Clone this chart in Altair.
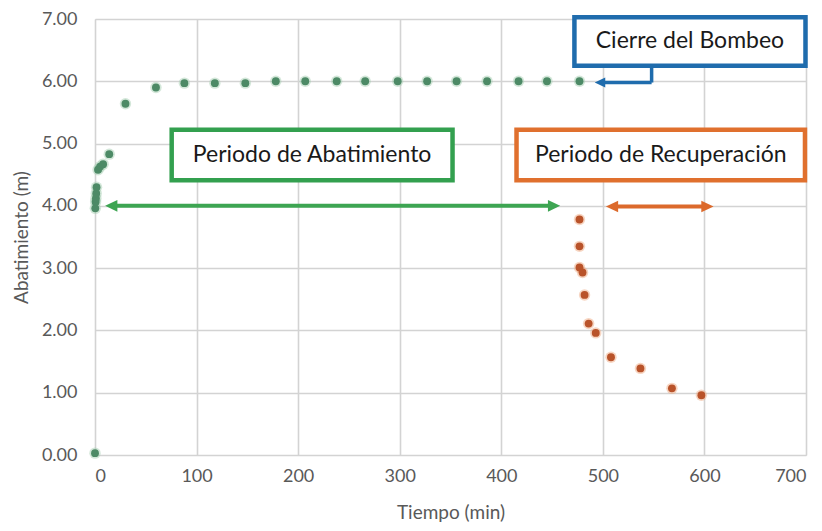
import altair as alt
import pandas as pd

# --- data ---
green_t = [0, 0.3, 0.6, 0.9, 1.2, 1.5, 3, 5, 8, 14, 30, 60, 88, 118, 148, 178, 207, 238, 266, 298, 327, 356, 386, 417, 445, 477]
green_s = [0.03, 3.96, 4.06, 4.12, 4.20, 4.30, 4.58, 4.63, 4.67, 4.83, 5.64, 5.90, 5.97, 5.97, 5.97, 6.00, 6.00, 6.00, 6.00, 6.00, 6.00, 6.00, 6.00, 6.00, 6.00, 6.00]
orange_t = [477, 477, 477, 480, 482, 486, 493, 508, 537, 568, 597]
orange_s = [3.78, 3.35, 3.01, 2.93, 2.57, 2.11, 1.96, 1.57, 1.39, 1.07, 0.96]

x_ticks = [0, 100, 200, 300, 400, 500, 600, 700]
y_ticks = [0, 1, 2, 3, 4, 5, 6, 7]

# annotation boxes (data units)
box_labels = ["Periodo de Abatimiento", "Periodo de Recuperación", "Cierre del Bombeo"]
box_x1 = [75.5, 415, 472]
box_x2 = [352, 699, 699.5]
box_y1 = [4.41, 4.41, 6.25]
box_y2 = [5.22, 5.22, 7.03]
box_colors = ["#33a04f", "#e0702e", "#1f6cad"]

# double arrows (data units)
arrow_left = [10, 503]
arrow_right = [458, 609]
arrow_y = [4.0, 3.99]
arrow_colors = ["#3da552", "#dc6a2c"]

# blue connector
conn_x = 548
conn_top = 6.25
conn_y = 5.98
conn_tip = 492

GRID = "#d3d3d3"
LABEL = "#595959"
FONT = "Lato"

xs = alt.Scale(domain=[0, 700], nice=False)
ys = alt.Scale(domain=[0, 7], nice=False)

pts = pd.DataFrame({
    "t": green_t + orange_t,
    "s": green_s + orange_s,
    "core": ["#4d8a66"] * len(green_t) + ["#b9532a"] * len(orange_t),
    "halo": ["#a8cfb4"] * len(green_t) + ["#f0ad88"] * len(orange_t),
})

base_x = alt.X("t:Q", scale=xs, title="Tiempo (min)",
               axis=alt.Axis(values=x_ticks, format="d", grid=True, gridColor=GRID, gridWidth=1.6,
                             domain=False, ticks=False, labelPadding=12, labelFontSize=18,
                             labelColor=LABEL, labelFont=FONT, titleFont=FONT, titleFontSize=19,
                             titleColor=LABEL, titleFontWeight="normal", titlePadding=18))
base_y = alt.Y("s:Q", scale=ys, title="Abatimiento (m)",
               axis=alt.Axis(values=y_ticks, format=".2f", grid=True, gridColor=GRID, gridWidth=1.6,
                             domain=False, ticks=False, labelPadding=18, labelFontSize=18,
                             labelColor=LABEL, labelFont=FONT, titleFont=FONT, titleFontSize=19,
                             titleColor=LABEL, titleFontWeight="normal", titlePadding=10))

halo = alt.Chart(pts).mark_circle(size=130, opacity=0.5).encode(
    x=base_x, y=base_y, color=alt.Color("halo:N", scale=None))
core = alt.Chart(pts).mark_circle(size=62, opacity=1).encode(
    x="t:Q", y="s:Q", color=alt.Color("core:N", scale=None))

# arrows
arr = pd.DataFrame({"l": arrow_left, "r": arrow_right, "y": arrow_y, "c": arrow_colors,
                    "ls": [a + 8 for a in arrow_left], "rs": [a - 8 for a in arrow_right]})
shaft = alt.Chart(arr).mark_rule(strokeWidth=4).encode(
    x="ls:Q", x2="rs:Q", y="y:Q", color=alt.Color("c:N", scale=None))
head_l = alt.Chart(arr).mark_point(shape="M0,0L2,-0.95L2,0.95Z", filled=True, size=150, opacity=1).encode(
    x="l:Q", y="y:Q", color=alt.Color("c:N", scale=None))
head_r = alt.Chart(arr).mark_point(shape="M0,0L-2,-0.95L-2,0.95Z", filled=True, size=150, opacity=1).encode(
    x="r:Q", y="y:Q", color=alt.Color("c:N", scale=None))

# blue connector
conn = pd.DataFrame({"x": [conn_x, conn_x], "x2": [conn_x, conn_tip + 6], "y": [conn_top, conn_y], "y2": [conn_y, conn_y]})
conn_rules = alt.Chart(conn).mark_rule(strokeWidth=3.5, color="#1f6cad").encode(x="x:Q", x2="x2:Q", y="y:Q", y2="y2:Q")
conn_head = alt.Chart(pd.DataFrame({"x": [conn_tip], "y": [conn_y]})).mark_point(
    shape="M0,0L2,-0.95L2,0.95Z", filled=True, size=110, opacity=1, color="#1f6cad").encode(x="x:Q", y="y:Q")

# boxes
boxes = pd.DataFrame({"lab": box_labels, "x1": box_x1, "x2": box_x2, "y1": box_y1, "y2": box_y2, "c": box_colors})
boxes["xm"] = (boxes["x1"] + boxes["x2"]) / 2
boxes["ym"] = (boxes["y1"] + boxes["y2"]) / 2
rects = alt.Chart(boxes).mark_rect(fill="white", strokeWidth=4.5).encode(
    x="x1:Q", x2="x2:Q", y="y1:Q", y2="y2:Q", stroke=alt.Stroke("c:N", scale=None))
texts = alt.Chart(boxes).mark_text(font=FONT, fontSize=23, color="#1a1a1a", baseline="middle", align="center").encode(
    x="xm:Q", y="ym:Q", text="lab:N")

chart = alt.layer(halo, core, shaft, head_l, head_r, conn_rules, conn_head, rects, texts).properties(
    width=711, height=436,
    autosize=alt.AutoSizeParams(type="none"),
    padding={"left": 87, "top": 11, "right": 8, "bottom": 74},
).configure_view(stroke=None).configure(background="white")

chart.save("out.html", embed_options={"renderer": "svg", "actions": False})
